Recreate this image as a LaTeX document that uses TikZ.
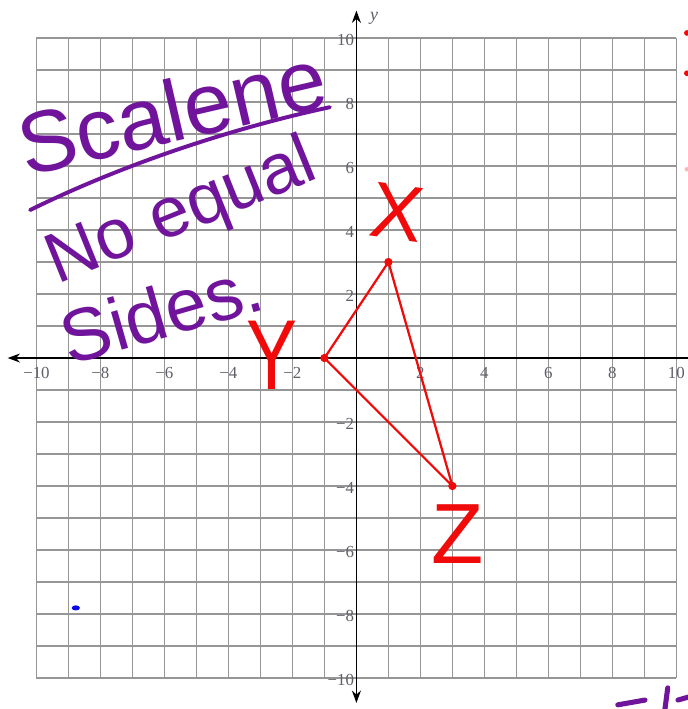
\documentclass[tikz,border=0pt]{standalone}
\usepackage{fontspec}
\setmainfont{Liberation Serif}
\newfontfamily\handfont{Liberation Sans}
\usetikzlibrary{arrows.meta}
\definecolor{gridgray}{RGB}{150,150,150}
\definecolor{ticklab}{RGB}{95,95,105}
\definecolor{hpurple}{RGB}{112,20,155}
\definecolor{hred}{RGB}{240,10,10}
\definecolor{hblue}{RGB}{10,10,230}
\tikzset{
  gridline/.style={draw=gridgray, line width=1.2pt},
  axisline/.style={draw=black, line width=1.3pt},
  ticklabel/.style={text=ticklab, font=\fontsize{15}{15}\selectfont, inner sep=0pt},
  purpletext/.style={text=hpurple, inner sep=0pt},
  redtext/.style={text=hred, inner sep=0pt},
  tri/.style={draw=hred, line width=2pt, line join=round},
  vdot/.style={fill=hred},
  pstroke/.style={draw=hpurple, line width=4.5pt, line cap=round},
}
\begin{document}
\begin{tikzpicture}[x=1cm,y=1cm]
\useasboundingbox (-11.14,-10.97) rectangle (10.36,11.19);
\clip (-11.14,-10.97) rectangle (10.36,11.19);
\fill[white] (-11.14,-10.97) rectangle (10.36,11.19);
% grid
\draw[gridline] (-10,-10) grid (10,10);
% axes
\coordinate (xl) at (-10.9,0);
\coordinate (xr) at (10.8,0);
\coordinate (yb) at (0,-10.78);
\coordinate (yt) at (0,10.86);
\draw[axisline, -{Stealth[length=11pt,width=8pt]}] (xr) -- (xl);
\draw[axisline, {Stealth[length=11pt,width=8pt]}-{Stealth[length=11pt,width=8pt]}] (yb) -- (yt);
\node[text=ticklab, font=\itshape\fontsize{16}{16}\selectfont, inner sep=0pt] (ylab) at (0.55,10.62) {y};
% tick labels
\foreach \v in {-10,-8,-6,-4,-2,2,4,6,8,10}{
  \pgfmathtruncatemacro{\av}{abs(\v)}
  \ifnum\v<0
    \node[ticklabel] (xt\av m) at (\v,-0.47) {−\av};
    \node[ticklabel, anchor=east] (yt\av m) at (-0.07,\v-0.05) {−\av};
  \else
    \node[ticklabel] (xt\av p) at (\v,-0.47) {\av};
    \node[ticklabel, anchor=east] (yt\av p) at (-0.07,\v-0.05) {\av};
  \fi
}
% triangle
\coordinate (X) at (1,3);
\coordinate (Y) at (-1,0);
\coordinate (Z) at (3,-4);
\draw[tri] (X) -- (Y) -- (Z) -- cycle;
\fill[vdot] (X) circle (0.13);
\fill[vdot] (Y) circle (0.13);
\fill[vdot] (Z) circle (0.13);
% red letters
\node[redtext, font=\handfont\fontsize{70}{70}\selectfont, rotate=-8] (lx) at (1.27,4.56) {X};
\node[redtext, font=\handfont\fontsize{68}{68}\selectfont, yscale=1.3] (ly) at (-2.64,0.1) {Y};
\node[redtext, font=\handfont\fontsize{76}{76}\selectfont] (lz) at (3.17,-5.5) {Z};
% purple handwriting
\node[purpletext, font=\handfont\fontsize{77}{77}\selectfont, rotate=13] (scal) at (-5.77,7.72) {Scalene};
\coordinate (u1) at (-10.2,4.625);
\coordinate (u2) at (-0.83,7.84);
\draw[pstroke, line width=3.5pt] (u1) .. controls (-7.2,6.1) and (-3.8,7.2) .. (u2);
\node[purpletext, font=\handfont\fontsize{63}{63}\selectfont, rotate=22] (noeq) at (-5.45,4.5) {No equal};
\node[purpletext, font=\handfont\fontsize{66}{66}\selectfont, rotate=16] (sides) at (-6.1,1.45) {Sides.};
% blue mark
\fill[hblue] (-8.77,-7.81) ellipse (0.13 and 0.08);
% edge fragments
\fill[hred] (10.33,10.16) circle (0.09);
\fill[hred] (10.33,8.9) circle (0.09);
\fill[hred!30] (10.33,5.9) circle (0.07);
\coordinate (p1) at (8.17,-10.84);
\coordinate (p2) at (9.02,-10.69);
\coordinate (p3) at (9.73,-10.31);
\coordinate (p4) at (9.64,-11.0);
\coordinate (p5) at (10.05,-10.69);
\coordinate (p6) at (10.4,-10.59);
\draw[pstroke] (p1) -- (p2);
\draw[pstroke] (p3) -- (p4);
\draw[pstroke] (p5) -- (p6);
\end{tikzpicture}
\end{document}
